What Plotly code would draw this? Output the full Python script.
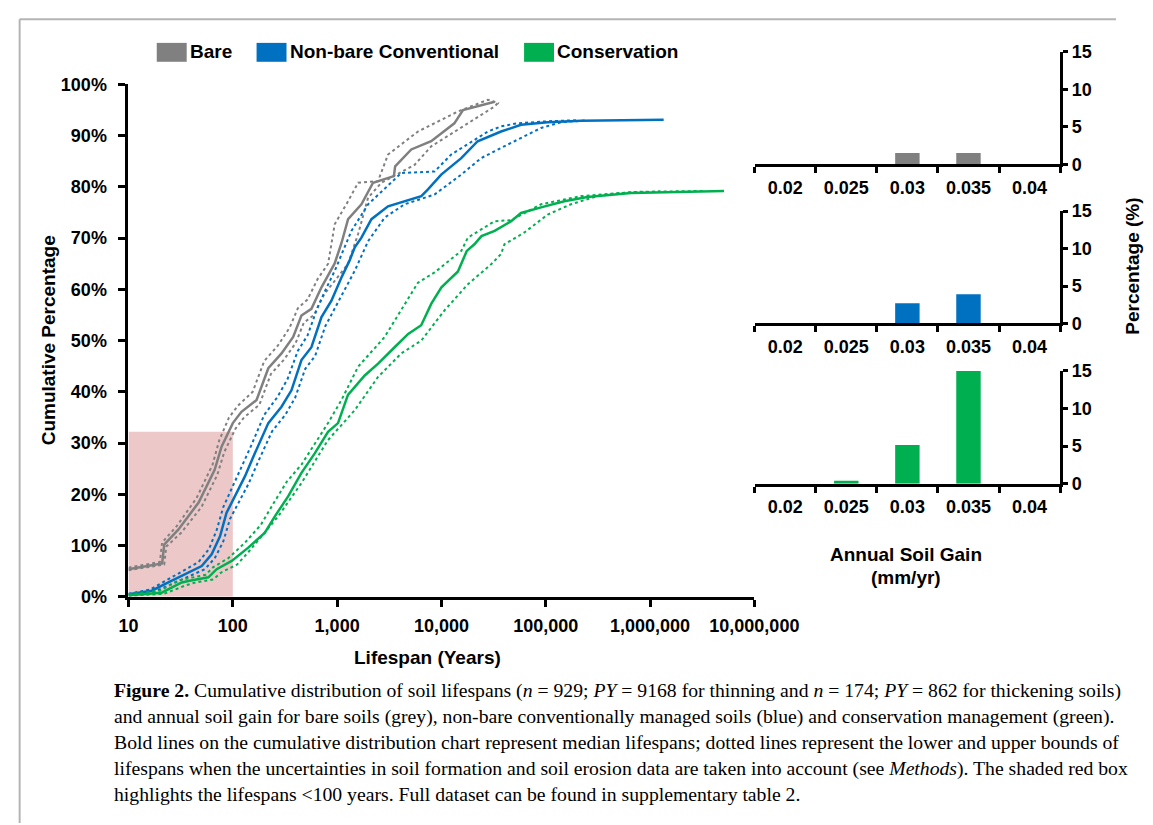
import plotly.graph_objects as go

W, H = 1153, 825
# the page draws the figure into a canvas at (OX, OY) of size CW x CH
OX, OY, CW, CH = 16.0, 16.0, 1100.0, 809.0
def px(x): return (x - OX) / CW
def py(y): return 1 - (y - OY) / CH

# ---------------- data: cumulative distributions (lifespan in years, cumulative %) ----------------
bare_x = [10, 21, 22, 30, 47, 67, 78, 100, 121, 169, 219, 293, 379, 455, 567, 708, 945, 1100, 1274, 1710, 2210, 3500, 3600, 5140, 7980, 13300, 16100, 32400]
bare_y = [5.4, 6.5, 10.2, 13.1, 18.4, 24.8, 29.3, 33.9, 36.1, 38.4, 44.6, 47.5, 50.7, 54.9, 56.2, 60.4, 65.0, 69.0, 73.7, 76.6, 80.8, 82.1, 84.0, 87.3, 88.9, 92.4, 95.0, 96.6]
bare_hi_x = [10, 20, 21, 29, 45, 64, 74, 92, 112, 155, 200, 270, 350, 420, 520, 650, 820, 948, 1274, 1589, 2466, 3076, 5957, 14390, 27870, 35700]
bare_hi_y = [5.7, 6.8, 10.6, 13.8, 19.3, 25.8, 30.5, 35.0, 37.3, 40.0, 46.0, 49.0, 52.5, 56.3, 58.0, 62.0, 65.0, 72.7, 77.2, 80.8, 81.1, 86.3, 90.8, 94.7, 97.0, 96.3]
bare_lo_x = [10, 22, 23, 32, 50, 71, 83, 106, 128, 180, 232, 310, 400, 480, 600, 750, 1274, 1589, 1982, 2655, 5530, 7980, 17950, 32360, 35700]
bare_lo_y = [5.2, 6.3, 9.8, 12.5, 17.5, 23.8, 28.3, 32.8, 35.0, 37.5, 43.5, 46.3, 49.5, 53.5, 55.0, 59.0, 65.0, 70.8, 77.9, 80.8, 84.3, 87.9, 92.4, 95.7, 96.6]

conv_x = [10, 16.7, 24.1, 34.8, 50.3, 62.7, 75.4, 87.1, 105, 130.6, 162.6, 219, 293, 365, 455, 567, 708, 882, 1100, 1315, 1476, 1710, 2133, 3076, 6412, 7430, 9950, 15500, 22240, 37300, 58000, 104500, 218000, 1350000]
conv_y = [0.5, 1.2, 2.8, 4.4, 6.0, 8.3, 11.8, 16.4, 19.6, 23.5, 28.0, 33.9, 37.1, 40.3, 46.2, 48.7, 54.6, 57.8, 62.3, 65.6, 68.2, 70.1, 73.7, 76.2, 78.2, 79.5, 82.4, 85.6, 88.9, 90.8, 92.1, 92.6, 92.9, 93.1]
conv_hi_x = [10, 16, 23, 33, 47, 59, 70, 81, 97, 121, 150, 200, 268, 335, 420, 520, 650, 800, 948, 1371, 1982, 4121, 8590, 12400, 27870, 37300, 53000, 104500, 200000]
conv_hi_y = [0.6, 1.4, 3.2, 5.0, 6.8, 9.3, 13.0, 17.5, 21.0, 25.0, 29.5, 35.5, 39.0, 42.5, 48.0, 51.0, 56.5, 60.5, 63.6, 71.4, 76.6, 82.7, 83.0, 86.3, 90.8, 91.8, 92.4, 92.8, 93.0]
conv_lo_x = [10, 17.5, 25.5, 37, 54, 67, 81, 94, 113, 141, 176, 238, 318, 395, 495, 615, 770, 960, 1473, 1982, 2857, 4436, 8590, 15500, 24000, 37300, 58000, 90200, 140000, 250000]
conv_lo_y = [0.4, 1.0, 2.4, 3.9, 5.4, 7.5, 10.8, 15.2, 18.3, 22.0, 26.5, 32.3, 35.5, 38.8, 44.5, 47.0, 52.8, 56.5, 63.6, 69.4, 74.0, 76.6, 78.5, 82.4, 85.6, 87.6, 89.5, 91.5, 92.6, 93.0]

cons_x = [10, 20.8, 32.4, 37.5, 58.3, 70, 97.6, 140.6, 203, 253, 339, 455, 610, 818, 1020, 1270, 1840, 2470, 3556, 4800, 6400, 8000, 10000, 14400, 17500, 20700, 24200, 32360, 46600, 58000, 90200, 150600, 251000, 655000, 5120000]
cons_y = [0.3, 0.8, 2.8, 3.1, 3.8, 5.4, 7.0, 9.6, 12.5, 15.7, 19.6, 24.2, 28.0, 32.2, 33.9, 39.4, 43.2, 45.5, 48.7, 51.3, 53.0, 57.2, 60.4, 63.5, 67.5, 68.8, 70.4, 71.4, 73.3, 74.9, 76.0, 77.2, 78.0, 78.8, 79.2]
cons_hi_x = [10, 20, 30, 55, 65, 90, 130, 185, 250, 330, 455, 818, 1100, 1589, 2852, 5957, 8590, 15500, 17950, 32360, 46600, 90200, 218000, 525000, 1250000]
cons_hi_y = [0.5, 1.2, 3.2, 4.3, 5.8, 7.5, 10.5, 14.0, 18.5, 22.5, 25.8, 33.9, 38.4, 44.9, 50.7, 61.3, 63.3, 67.5, 70.1, 73.3, 73.5, 76.6, 78.2, 78.8, 79.1]
cons_lo_x = [10, 22, 35, 42, 65, 78, 110, 140.6, 272, 455, 818, 1473, 2466, 4121, 6412, 10700, 17950, 30000, 37300, 40200, 62400, 104500, 174500, 315000, 655000, 3300000]
cons_lo_y = [0.2, 0.6, 2.2, 2.7, 3.4, 4.8, 6.3, 8.7, 15.7, 22.2, 30.6, 36.4, 42.9, 47.5, 50.0, 55.9, 61.0, 64.9, 66.9, 68.8, 71.1, 74.6, 76.6, 78.2, 79.0, 79.2]

# shaded box: lifespans < 100 years
box_x = [10, 100, 100, 10, 10]
box_y = [0, 0, 32.2, 32.2, 0]

# ---------------- data: annual soil gain histograms (%) ----------------
gain_cats = ["0.02", "0.025", "0.03", "0.035", "0.04"]
bare_gain = [0, 0, 1.5, 1.5, 0]
conv_gain = [0, 0, 2.7, 3.9, 0]
cons_gain = [0, 0.4, 5.15, 15, 0]

x_ticks = [10, 100, 1000, 10000, 100000, 1000000, 10000000]
x_ticktext = ["10", "100", "1,000", "10,000", "100,000", "1,000,000", "10,000,000"]
y_ticks = [0, 10, 20, 30, 40, 50, 60, 70, 80, 90, 100]
y_ticktext = [f"{v}%" for v in y_ticks]

GREY = "#808080"
BLUE = "#0070C0"
GREEN = "#00B050"
BOX = "#EDC8C8"
SANS = "Liberation Sans, Arial, sans-serif"
SERIF = "Liberation Serif, Times New Roman, serif"

fig = go.Figure()

fig.add_trace(go.Scatter(x=box_x, y=box_y, fill="toself", fillcolor=BOX, mode="none",
                         hoverinfo="skip", showlegend=False, xaxis="x", yaxis="y"))

def add_group(xm, ym, xh, yh, xl, yl, color, name):
    fig.add_trace(go.Scatter(x=xh, y=yh, mode="lines", line=dict(color=color, width=2, dash="dot"),
                             showlegend=False, name=name + " upper", xaxis="x", yaxis="y"))
    fig.add_trace(go.Scatter(x=xl, y=yl, mode="lines", line=dict(color=color, width=2, dash="dot"),
                             showlegend=False, name=name + " lower", xaxis="x", yaxis="y"))
    fig.add_trace(go.Scatter(x=xm, y=ym, mode="lines", line=dict(color=color, width=2.5),
                             showlegend=False, name=name, xaxis="x", yaxis="y"))

add_group(bare_x, bare_y, bare_hi_x, bare_hi_y, bare_lo_x, bare_lo_y, GREY, "Bare")
add_group(conv_x, conv_y, conv_hi_x, conv_hi_y, conv_lo_x, conv_lo_y, BLUE, "Non-bare Conventional")
add_group(cons_x, cons_y, cons_hi_x, cons_hi_y, cons_lo_x, cons_lo_y, GREEN, "Conservation")

for i, (vals, col) in enumerate([(bare_gain, GREY), (conv_gain, BLUE), (cons_gain, GREEN)]):
    n = i + 2
    fig.add_trace(go.Bar(x=gain_cats, y=vals, marker=dict(color=col, line=dict(width=0)),
                         showlegend=False, xaxis=f"x{n}", yaxis=f"y{n}"))

tickfont = dict(family=SANS, size=18, color="black", weight="bold")
axis_common = dict(showline=True, linecolor="black", linewidth=3, ticks="outside",
                   tickwidth=3, tickcolor="black", showgrid=False, zeroline=False,
                   tickfont=tickfont)

layout = dict(
    width=W, height=H, autosize=False,
    margin=dict(l=0, r=0, t=0, b=0),
    paper_bgcolor="white", plot_bgcolor="rgba(0,0,0,0)",
    showlegend=False, bargap=0.6,
    xaxis=dict(type="log", range=[1, 7], domain=[px(126.7), px(753.7)], anchor="y",
               tickvals=x_ticks, ticktext=x_ticktext, ticklen=7, ticklabelstandoff=4, **axis_common),
    yaxis=dict(range=[0, 100], domain=[py(597.7), py(82.7)], anchor="x",
               tickvals=y_ticks, ticktext=y_ticktext, ticklen=7, ticklabelstandoff=8, **axis_common),
)

bar_domains = [(163, 50), (323, 210), (484, 370.7)]
for i, (b, t) in enumerate(bar_domains):
    n = i + 2
    layout[f"xaxis{n}"] = dict(type="category", domain=[px(754), px(1060)], anchor=f"y{n}",
                               range=[-0.5, 4.5], tickson="boundaries", ticklen=6,
                               ticklabelstandoff=5, **axis_common)
    layout[f"yaxis{n}"] = dict(domain=[py(b), py(t)], anchor=f"x{n}", side="right",
                               range=[0, 15], tickvals=[0, 5, 10, 15], ticklen=5, **axis_common)

fig.update_layout(**layout)

ann = []
def text(x, y, s, size=19, bold=True, angle=0, xanchor="center", family=SANS):
    ann.append(dict(x=px(x), y=py(y), xref="paper", yref="paper", text=s, showarrow=False,
                    textangle=angle, xanchor=xanchor, yanchor="middle",
                    font=dict(family=family, size=size, color="black", weight="bold" if bold else "normal")))

text(46, 340, "Cumulative Percentage", angle=-90)
text(426, 659, "Lifespan (Years)")
text(1133, 265, "Percentage (%)", angle=-90)
text(906, 555, "Annual Soil Gain")
text(906, 578, "(mm/yr)")

# legend
shapes = []
legend_items = [(155, "Bare", GREY), (255, "Non-bare Conventional", BLUE), (523, "Conservation", GREEN)]
for x0, label, col in legend_items:
    shapes.append(dict(type="rect", xref="paper", yref="paper", x0=px(x0), x1=px(x0 + 30),
                       y0=py(60), y1=py(41), fillcolor=col, line=dict(width=0)))
    text(x0 + 31, 50, label, xanchor="left")

# border of figure panel (top and left edges)
shapes.append(dict(type="line", xref="paper", yref="paper", x0=0.0015, x1=1, y0=0.9985, y1=0.9985,
                   line=dict(color="#b4b4b4", width=2)))
shapes.append(dict(type="line", xref="paper", yref="paper", x0=0.0015, x1=0.0015, y0=0.9985, y1=0,
                   line=dict(color="#b4b4b4", width=2)))

caption = [
    "<b>Figure 2.</b> Cumulative distribution of soil lifespans (<i>n</i> = 929; <i>PY</i> = 9168 for thinning and <i>n</i> = 174; <i>PY</i> = 862 for thickening soils)",
    "and annual soil gain for bare soils (grey), non-bare conventionally managed soils (blue) and conservation management (green).",
    "Bold lines on the cumulative distribution chart represent median lifespans; dotted lines represent the lower and upper bounds of",
    "lifespans when the uncertainties in soil formation and soil erosion data are taken into account (see <i>Methods</i>). The shaded red box",
    "highlights the lifespans &lt;100 years. Full dataset can be found in supplementary table 2.",
]
for k, line in enumerate(caption):
    text(110, 692 + 26 * k, line, size=19.7, bold=False, xanchor="left", family=SERIF)

fig.update_layout(annotations=ann, shapes=shapes)
fig.write_html("out.html")
